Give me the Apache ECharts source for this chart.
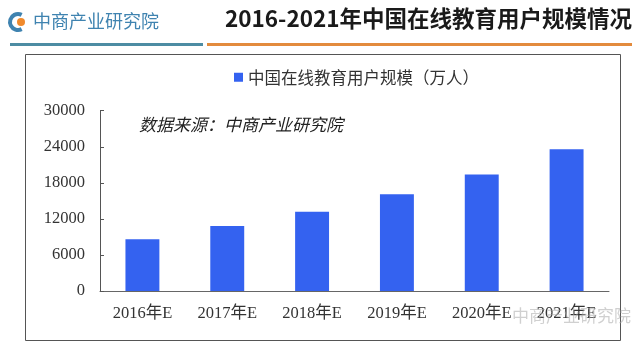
<!DOCTYPE html>
<html>
<head>
<meta charset="utf-8">
<script src="https://cdn.jsdelivr.net/npm/echarts@6/dist/echarts.min.js"></script>
<style>
  html, body { margin: 0; padding: 0; background: #fff; }
  #chart { width: 640px; height: 353px; }
</style>
</head>
<body>
<div id="chart"></div>
<script>
// data
const years = ['2016年E', '2017年E', '2018年E', '2019年E', '2020年E', '2021年E'];
const users = [8600, 10800, 13200, 16100, 19400, 23600];
const seriesName = '中国在线教育用户规模（万人）';
const chartTitle = '2016-2021年中国在线教育用户规模情况';
const brand = '中商产业研究院';
const sourceNote = '数据来源：中商产业研究院';

const serif = '"Liberation Serif", "Noto Sans CJK SC", serif';
const sans = '"Noto Sans CJK SC", sans-serif';

const chart = echarts.init(document.getElementById('chart'));

const option = {
    backgroundColor: '#fff',
    animation: false,
    grid: { left: 100, right: 31, top: 110.7, bottom: 62 },
    legend: {
        data: [seriesName],
        top: 64,
        left: 229,
        itemWidth: 9,
        itemHeight: 9,
        itemGap: 4,
        icon: 'rect',
        textStyle: { fontFamily: sans, fontSize: 16.5, color: '#333' }
    },
    xAxis: {
        type: 'category',
        data: years,
        axisLine: { lineStyle: { color: '#666', width: 1 } },
        axisTick: { inside: true, length: 4, lineStyle: { color: '#555' } },
        axisLabel: { fontFamily: serif, fontSize: 16.5, color: '#333', margin: 14 }
    },
    yAxis: {
        type: 'value',
        min: 0,
        max: 30000,
        interval: 6000,
        axisLine: { show: true, lineStyle: { color: '#555', width: 1 } },
        axisTick: { show: true, inside: true, length: 4, lineStyle: { color: '#555' } },
        splitLine: { show: false },
        axisLabel: { fontFamily: serif, fontSize: 16.5, color: '#333', margin: 15,
                     formatter: (v) => String(v) }
    },
    series: [{
        name: seriesName,
        type: 'bar',
        data: users,
        barWidth: '40%',
        itemStyle: { color: '#3462f0' }
    }],
    graphic: [
        // outer frame of the chart
        { type: 'rect', shape: { x: 25.5, y: 54.5, width: 595, height: 286 },
          style: { fill: null, stroke: '#555', lineWidth: 1 }, z: -1 },
        // header rules
        { type: 'rect', shape: { x: 10, y: 43, width: 193, height: 3 }, style: { fill: '#4d8ca3' } },
        { type: 'rect', shape: { x: 207, y: 43, width: 425, height: 3 }, style: { fill: '#e38b3d' } },
        // brand logo
        { type: 'arc', shape: { cx: 18, cy: 22, r: 8, startAngle: Math.PI * 0.35, endAngle: Math.PI * 1.65 },
          style: { stroke: '#3f83b0', lineWidth: 4, fill: null } },
        { type: 'circle', shape: { cx: 21, cy: 22, r: 4 }, style: { fill: '#f08a2c' } },
        { type: 'text', left: 33, top: 12,
          style: { text: brand, fontFamily: sans, fontSize: 18, fill: '#3f83b0' } },
        // chart title
        { type: 'text', right: 8, top: 7,
          style: { text: chartTitle, fontFamily: sans, fontSize: 22.5, fontWeight: 'bold', fill: '#1a1a1a' } },
        // source note
        { type: 'text', left: 139, top: 116,
          style: { text: sourceNote, fontFamily: sans, fontSize: 17, fontStyle: 'italic', fill: '#222' } },
        // watermark
        { type: 'text', left: 512, top: 307,
          style: { text: brand, fontFamily: sans, fontSize: 17, fill: 'rgba(170,170,170,0.55)' }, z: 10 }
    ]
};

chart.setOption(option);
</script>
</body>
</html>
